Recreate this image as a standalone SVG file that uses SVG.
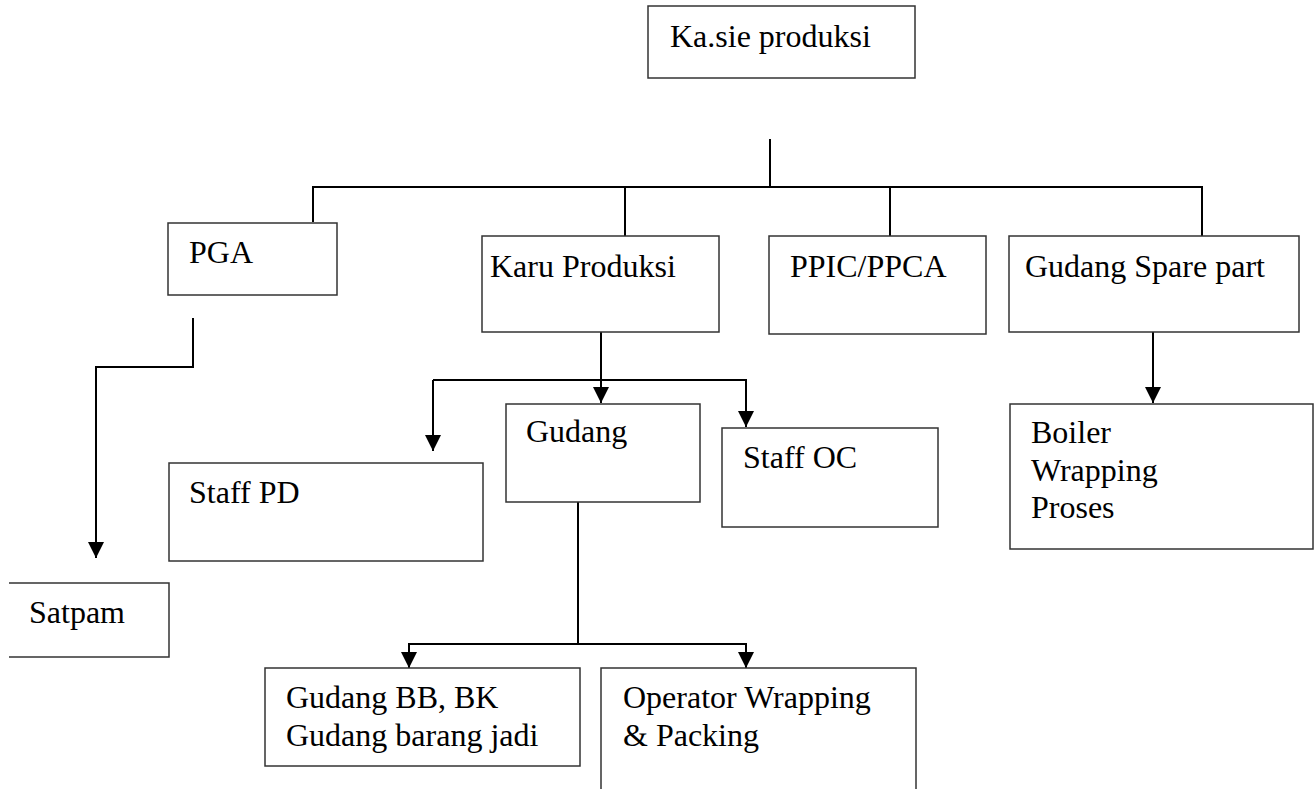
<svg xmlns="http://www.w3.org/2000/svg" width="1315" height="789" viewBox="0 0 1315 789">
<style>
.box{fill:#fff;stroke:#333;stroke-width:1.5}
.lbl{font-family:'Liberation Serif','Tinos','Times New Roman','DejaVu Serif',serif;font-size:32px;fill:#000}
.con{fill:none;stroke:#000;stroke-width:2}
</style>
<defs>
<marker id="ah" markerWidth="16" markerHeight="16" refX="16" refY="8" orient="auto" markerUnits="userSpaceOnUse">
<path d="M0,0 L16,8 L0,16 Z" fill="#000"/>
</marker>
</defs>
<rect width="1315" height="789" fill="#fff"/>
<g id="connectors">
<path class="con" d="M770,139 V187"/>
<path class="con" d="M313,222 V187 H1202 V236"/>
<path class="con" d="M625,187 V236"/>
<path class="con" d="M890,187 V236"/>
<path class="con" d="M193,318 V367 H96 V558" marker-end="url(#ah)"/>
<path class="con" d="M601,332 V403" marker-end="url(#ah)"/>
<path class="con" d="M433,380 H746 V427" marker-end="url(#ah)"/>
<path class="con" d="M433,380 V451" marker-end="url(#ah)"/>
<path class="con" d="M578,502 V644 H409 V668" marker-end="url(#ah)"/>
<path class="con" d="M578,644 H746 V668" marker-end="url(#ah)"/>
<path class="con" d="M1153,332 V403" marker-end="url(#ah)"/>
</g>
<g id="kasie">
<rect class="box" x="648" y="6" width="267" height="72"/>
<text class="lbl" x="670" y="47" font-family="Liberation Serif, serif">Ka.sie produksi</text>
</g>
<g id="pga">
<rect class="box" x="168" y="223" width="169" height="72"/>
<text class="lbl" x="189" y="263">PGA</text>
</g>
<g id="karu">
<rect class="box" x="482" y="236" width="237" height="96"/>
<text class="lbl" x="490" y="277">Karu Produksi</text>
</g>
<g id="ppic">
<rect class="box" x="769" y="236" width="217" height="98"/>
<text class="lbl" x="790" y="277">PPIC/PPCA</text>
</g>
<g id="sparepart">
<rect class="box" x="1009" y="236" width="290" height="96"/>
<text class="lbl" x="1025" y="277">Gudang Spare part</text>
</g>
<g id="satpam">
<path class="box" d="M9,583 H169 V657 H9"/>
<text class="lbl" x="29" y="623">Satpam</text>
</g>
<g id="staffpd">
<rect class="box" x="169" y="463" width="314" height="98"/>
<text class="lbl" x="189" y="503">Staff PD</text>
</g>
<g id="gudang">
<rect class="box" x="506" y="404" width="194" height="98"/>
<text class="lbl" x="526" y="442">Gudang</text>
</g>
<g id="staffoc">
<rect class="box" x="722" y="428" width="216" height="99"/>
<text class="lbl" x="743" y="468">Staff OC</text>
</g>
<g id="boiler">
<rect class="box" x="1010" y="404" width="303" height="145"/>
<text class="lbl" x="1031" y="443">Boiler</text>
<text class="lbl" x="1031" y="481">Wrapping</text>
<text class="lbl" x="1031" y="518">Proses</text>
</g>
<g id="gudangbb">
<rect class="box" x="265" y="668" width="315" height="98"/>
<text class="lbl" x="286" y="708">Gudang BB, BK</text>
<text class="lbl" x="286" y="746">Gudang barang jadi</text>
</g>
<g id="operator">
<rect class="box" x="601" y="668" width="315" height="140"/>
<text class="lbl" x="623" y="708">Operator Wrapping</text>
<text class="lbl" x="623" y="746">&amp; Packing</text>
</g>
</svg>
